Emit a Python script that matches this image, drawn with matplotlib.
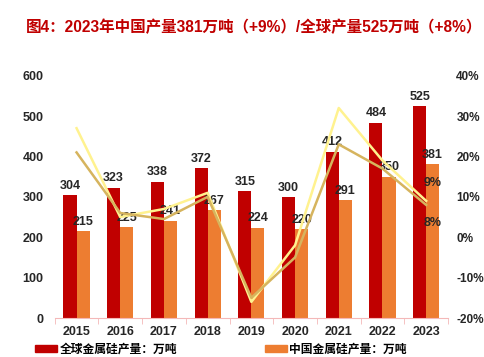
import numpy as np
import matplotlib
matplotlib.use("Agg")
import matplotlib.pyplot as plt
from matplotlib.patches import Patch
from matplotlib.ticker import FuncFormatter

plt.rcParams['font.family'] = ['Liberation Sans', 'Noto Sans CJK SC', 'DejaVu Sans']

years = ['2015', '2016', '2017', '2018', '2019', '2020', '2021', '2022', '2023']
world = [304, 323, 338, 372, 315, 300, 412, 484, 525]
china = [215, 225, 241, 267, 224, 220, 291, 350, 381]
# growth rates (%)
china_yoy = [27, 5, 7, 11, -16, -2, 32, 19, 9]
world_yoy = [21, 6, 4.5, 10, -15, -5, 23, 17, 8]

red = '#C00000'
orange = '#ED7D31'
light = '#FFF28F'
khaki = '#D6B45E'
pink = '#F4B8B8'
txt = '#262626'
fs = 9

fig = plt.figure(figsize=(4.85, 3.57), dpi=100)
ax = fig.add_axes([0.1128, 0.1092, 0.8109, 0.6788])
ax2 = ax.twinx()

x = np.arange(len(years))
w = 0.3
ax.bar(x - w / 2, world, w, color=red, zorder=2)
ax.bar(x + w / 2, china, w, color=orange, zorder=2)
for i in range(len(years)):
    ax.text(x[i] - w / 2, world[i] + 8, str(world[i]), ha='center', va='bottom',
            fontsize=fs, fontweight='bold', color=txt, zorder=5)
    ax.text(x[i] + w / 2, china[i] + 8, str(china[i]), ha='center', va='bottom',
            fontsize=fs, fontweight='bold', color=txt, zorder=5)

ax2.plot(x, china_yoy, color=light, lw=1.8, zorder=3)
ax2.plot(x, world_yoy, color=khaki, lw=1.8, zorder=3)
ax2.text(x[-1] + 0.15, china_yoy[-1] + 4.5, '9%', ha='center', va='center',
         fontsize=fs, fontweight='bold', color=txt)
ax2.text(x[-1] + 0.15, world_yoy[-1] - 4.5, '8%', ha='center', va='center',
         fontsize=fs, fontweight='bold', color=txt)

ax.set_xlim(-0.5, len(years) - 0.5)
ax.set_ylim(0, 600)
ax.set_yticks(range(0, 601, 100))
ax2.set_ylim(-20, 40)
ax2.set_yticks(range(-20, 41, 10))
ax2.yaxis.set_major_formatter(FuncFormatter(lambda v, p: '%d%%' % v))

ax.set_xticks(x)
ax.set_xticklabels(years)
ax.set_xticks(np.arange(-0.5, len(years), 1), minor=True)

for a in (ax, ax2):
    for s in ('top', 'left', 'right', 'bottom'):
        a.spines[s].set_visible(False)
ax.spines['bottom'].set_visible(True)
ax.spines['bottom'].set_color(pink)

ax.tick_params(axis='x', which='major', length=0, pad=6, labelsize=fs, labelcolor=txt)
ax.tick_params(axis='x', which='minor', length=4, color=pink)
ax.tick_params(axis='y', length=0, pad=8, labelsize=fs, labelcolor=txt)
ax2.tick_params(axis='y', length=0, pad=6, labelsize=8.5, labelcolor=txt)
for lab in ax.get_xticklabels() + ax.get_yticklabels() + ax2.get_yticklabels():
    lab.set_fontweight('bold')

ax2.set_zorder(ax.get_zorder() + 1)

fig.text(26 / 485, 1 - 27 / 357, '图4：2023年中国产量381万吨（+9%）/全球产量525万吨（+8%）',
         ha='left', va='center', fontsize=11.2, fontweight='bold', color=red)

handles = [Patch(color=red), Patch(color=orange)]
fig.legend(handles, ['全球金属硅产量：万吨', '中国金属硅产量：万吨'], ncol=2,
           loc='center left', bbox_to_anchor=(29 / 485, 1 - 350 / 357), frameon=False,
           prop={'size': 8.5, 'weight': 'bold'}, handlelength=1.9, handleheight=0.5,
           handletextpad=0.2, columnspacing=7.4, borderpad=0)

fig.savefig('out.png', dpi=100)
